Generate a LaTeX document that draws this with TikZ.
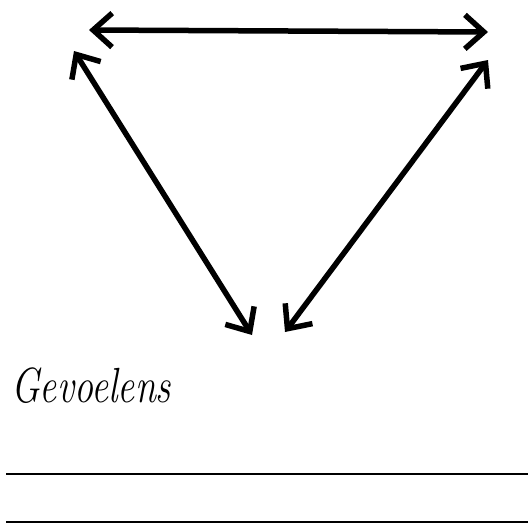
\documentclass[tikz,border=0pt]{standalone}
\usepackage{tikz}
\usetikzlibrary{arrows.meta,positioning}

\begin{document}
\begin{tikzpicture}[x=1pt,y=-1pt]
            \tikzset{my edge/.style = {{Straight Barb[length=19pt,width=34pt]}-{Straight Barb[length=19pt,width=34pt]}, line width=5.5pt, line cap=round, line join=round}}
            \tikzset{my rule/.style = {line width=1.3pt}}
            \tikzset{my label/.style = {font=\fontsize{38}{44}\selectfont\itshape, inner sep=0pt}}
            \useasboundingbox (0,0) rectangle (528,525);
            % corners of the triangle
            \coordinate (topL) at (89,30);
            \coordinate (topR) at (488,32);
            \coordinate (sideL) at (74,51);
            \coordinate (sideR) at (488,60);
            \coordinate (botL) at (252,335);
            \coordinate (botR) at (285,332);
            \draw[my edge] (topL) -- (topR);
            \draw[my edge] (sideL) -- (botL);
            \draw[my edge] (sideR) -- (botR);
            \node[my label, anchor=base west] (gevoelens) at (11,402) {\scalebox{1}[1.3]{Gevoelens}};
            % writing lines
            \coordinate (r1a) at (6,474);
            \coordinate (r1b) at (528,474);
            \coordinate (r2a) at (6,522);
            \coordinate (r2b) at (528,522);
            \draw[my rule] (r1a) -- (r1b);
            \draw[my rule] (r2a) -- (r2b);
        \end{tikzpicture}
\end{document}
